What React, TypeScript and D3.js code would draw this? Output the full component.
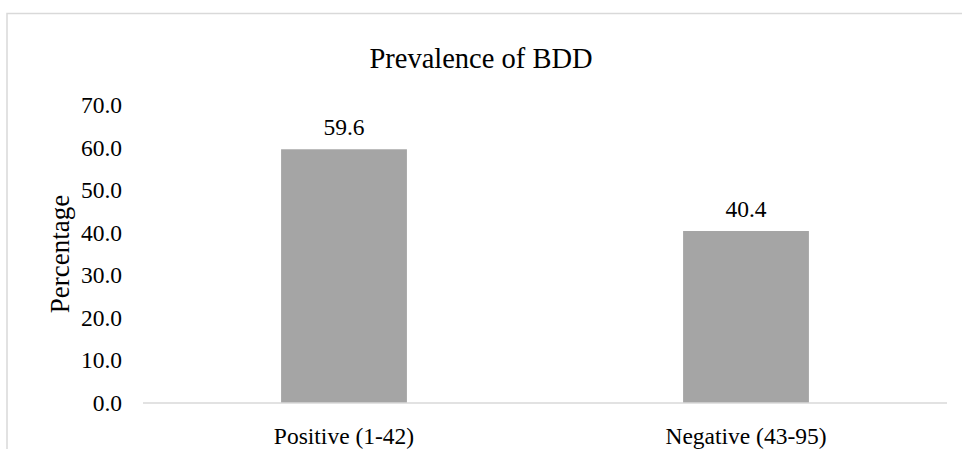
import React from "react";
import * as d3 from "d3";

const categories = ["Positive (1-42)", "Negative (43-95)"];
const percentages = [59.6, 40.4];
const yTicks = [0, 10, 20, 30, 40, 50, 60, 70];
const chartTitle = "Prevalence of BDD";
const yAxisTitle = "Percentage";

const W = 962;
const H = 449;
const plot = { left: 143, right: 947, top: 105, bottom: 403 };
const FONT = "'Liberation Serif', 'Times New Roman', serif";

export default function App() {
  const x = d3
    .scaleBand<string>()
    .domain(categories)
    .range([plot.left, plot.right])
    .paddingInner(0.687)
    .paddingOuter(0.3435);
  const y = d3.scaleLinear().domain([0, 70]).range([plot.bottom, plot.top]);
  const fmt = d3.format(".1f");

  return (
    <svg
      width={W}
      height={H}
      style={{ position: "absolute", left: 0, top: 0, background: "#fff" }}
      fontFamily={FONT}
    >
      {/* chart frame */}
      <rect x={7} y={13.5} width={W + 10} height={H + 10} fill="#fff" stroke="#d9d9d9" strokeWidth={1.5} />

      <text x={481} y={68} textAnchor="middle" fontSize={28.5} fill="#000">
        {chartTitle}
      </text>

      {/* y tick labels */}
      {yTicks.map((t) => (
        <text key={t} x={122} y={y(t)} dy="0.34em" textAnchor="end" fontSize={23.5} fill="#000">
          {fmt(t)}
        </text>
      ))}

      <text
        transform={`translate(69,${(plot.top + plot.bottom) / 2}) rotate(-90)`}
        textAnchor="middle"
        fontSize={27}
        fill="#000"
      >
        {yAxisTitle}
      </text>

      {/* bars */}
      {categories.map((c, i) => (
        <g key={c}>
          <rect
            x={x(c)!}
            y={y(percentages[i])}
            width={x.bandwidth()}
            height={y(0) - y(percentages[i])}
            fill="#a5a5a5"
          />
          <text
            x={x(c)! + x.bandwidth() / 2}
            y={y(percentages[i]) - 14}
            textAnchor="middle"
            fontSize={23.5}
            fill="#000"
          >
            {fmt(percentages[i])}
          </text>
          <text
            x={x(c)! + x.bandwidth() / 2}
            y={444}
            textAnchor="middle"
            fontSize={23.5}
            fill="#000"
          >
            {c}
          </text>
        </g>
      ))}

      {/* category axis line */}
      <line x1={plot.left} x2={plot.right} y1={plot.bottom} y2={plot.bottom} stroke="#d9d9d9" strokeWidth={1.5} />
    </svg>
  );
}
